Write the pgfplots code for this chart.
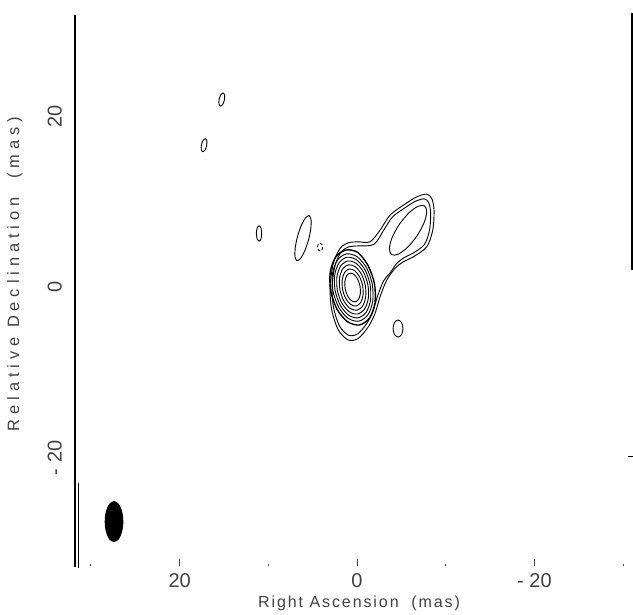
\documentclass[border=0pt]{standalone}
\usepackage{pgfplots}
\pgfplotsset{compat=1.18}
\usepackage{fontspec}
\setmainfont{Liberation Sans}
\newfontfamily\lblx[LetterSpace=12]{Liberation Sans}
\newfontfamily\lbly[LetterSpace=30]{Liberation Sans}
\newfontfamily\tickf{Liberation Sans}
\colorlet{txt}{black!75}
\tikzset{cnt/.style={black, line width=0.45pt, smooth cycle, mark=none}}
\begin{document}
\begin{tikzpicture}
\begin{axis}[name=ax, scale only axis, width=278.5pt, height=275.5pt,
 x dir=reverse, xmin=-31, xmax=31.8, ymin=-32.3, ymax=32.2,
 clip=false,
 axis line style={draw=none},
 xtick={-20,0,20}, xticklabels={- 20,0,20}, minor xtick={-30,-10,10,30},
 xtick pos=bottom, tick align=inside, major tick length=3.5pt, minor tick length=1.2pt,
 ytick={-20,0,20}, yticklabels={- 20,0,20}, ytick style={draw=none},
 xtick style={black!70, line width=0.5pt},
 minor tick style={black!70, line width=0.8pt},
 xticklabel style={font=\tickf\fontsize{10}{11}\selectfont, text=txt},
 yticklabel style={font=\tickf\fontsize{10}{11}\selectfont, text=txt, rotate=90, anchor=south, xshift=1.5pt, yshift=3pt},
 xlabel={Right Ascension\ \ (mas)}, ylabel={Relative Declination\ \ (mas)},
 xlabel style={font=\lblx\fontsize{8}{10}\selectfont, text=txt, at={(axis description cs:0.51,-0.067)}, anchor=center},
 ylabel style={font=\lbly\fontsize{8.2}{10}\selectfont, text=txt, at={(axis description cs:-0.108,0.53)}, anchor=center},
]
% frame lines
\addplot[black, line width=1.2pt] coordinates {(31.8,-32.4) (31.8,32.2)};
\addplot[black, line width=1pt] coordinates {(-31,32.4) (-31,2.3)};
\addplot[black, line width=0.4pt] coordinates {(31.45,-22.6) (31.45,-32.5)};
\addplot[black, line width=0.6pt] coordinates {(-30.6,-19.5) (-31.1,-19.5)};
% merged contour level 1
\addplot[cnt] coordinates {(-0.147,5.649) (-1.466,5.649) (-2.593,7.018) (-3.720,8.772) (-5.220,9.942) (-6.731,10.912) (-7.858,11.228) (-8.422,10.725) (-8.681,9.357) (-8.534,7.018) (-7.858,5.064) (-6.347,3.895) (-5.220,3.310) (-4.284,2.538) (-3.348,1.170) (-2.593,-0.784) (-2.029,-2.725) (-1.274,-4.292) (-0.147,-5.649) (0.981,-5.848) (2.108,-4.678) (2.852,-2.339) (3.044,0.386) (2.672,3.123) (1.917,4.877) (0.981,5.532)};
% merged contour level 2
\addplot[cnt] coordinates {(-0.089,5.168) (-1.9,5.35) (-3.003,7.016) (-3.984,8.542) (-5.289,9.560) (-6.603,10.403) (-7.584,10.678) (-8.075,10.241) (-8.300,9.051) (-8.172,7.016) (-7.584,5.316) (-6.269,4.299) (-5.289,3.790) (-4.475,3.118) (-3.75,2.05) (-3.002,1.092) (-2.315,-0.686) (-1.801,-2.453) (-1.114,-3.879) (-0.089,-5.114) (0.938,-5.295) (1.963,-4.230) (2.640,-2.101) (2.815,0.378) (2.477,2.869) (1.789,4.465) (0.938,5.061)};
% jet component level 3
\addplot[cnt] coordinates {(-7.603,9.853) (-6.852,9.798) (-5.805,8.993) (-4.743,7.654) (-3.951,6.139) (-3.642,4.856) (-3.897,4.147) (-4.648,4.202) (-5.695,5.007) (-6.757,6.346) (-7.549,7.861) (-7.858,9.144)};
% core levels 3-9
\addplot[cnt, line width=0.7pt] coordinates {(1.274,4.683) (2.402,3.878) (3.020,2.115) (2.963,-0.135) (2.246,-2.269) (1.060,-3.714) (-0.274,-4.083) (-1.402,-3.278) (-2.020,-1.515) (-1.963,0.735) (-1.246,2.869) (-0.060,4.414)};
\addplot[cnt] coordinates {(1.196,4.240) (2.211,3.516) (2.767,1.931) (2.716,-0.092) (2.071,-2.009) (1.005,-3.308) (-0.196,-3.640) (-1.211,-2.916) (-1.767,-1.331) (-1.716,0.692) (-1.071,2.609) (-0.005,3.908)};
\addplot[cnt] coordinates {(1.126,3.846) (2.028,3.197) (2.519,1.772) (2.470,-0.048) (1.893,-1.774) (0.942,-2.945) (-0.126,-3.246) (-1.028,-2.597) (-1.519,-1.172) (-1.470,0.648) (-0.893,2.374) (0.058,3.545)};
\addplot[cnt] coordinates {(1.048,3.403) (1.837,2.835) (2.267,1.587) (2.224,-0.005) (1.719,-1.515) (0.887,-2.539) (-0.048,-2.803) (-0.837,-2.235) (-1.267,-0.987) (-1.224,0.605) (-0.719,2.115) (0.113,3.139)};
\addplot[cnt] coordinates {(0.970,2.960) (1.621,2.477) (1.972,1.411) (1.928,0.048) (1.502,-1.249) (0.807,-2.129) (0.030,-2.360) (-0.621,-1.877) (-0.972,-0.811) (-0.928,0.552) (-0.502,1.849) (0.193,2.729)};
\addplot[cnt] coordinates {(0.883,2.467) (1.398,2.077) (1.672,1.211) (1.633,0.100) (1.290,-0.957) (0.734,-1.677) (0.117,-1.867) (-0.398,-1.477) (-0.672,-0.611) (-0.633,0.500) (-0.290,1.557) (0.266,2.277)};
\addplot[cnt] coordinates {(0.796,1.975) (1.175,1.676) (1.373,1.009) (1.337,0.152) (1.077,-0.665) (0.663,-1.224) (0.204,-1.375) (-0.175,-1.076) (-0.373,-0.409) (-0.337,0.448) (-0.077,1.265) (0.337,1.824)};
% small islands
\addplot[cnt] coordinates {(15.094,23.064) (15.348,22.882) (15.544,22.360) (15.568,21.802) (15.406,21.536) (15.152,21.718) (14.956,22.240) (14.932,22.798)};
\addplot[cnt] coordinates {(17.094,17.724) (17.348,17.542) (17.544,17.020) (17.568,16.462) (17.406,16.196) (17.152,16.378) (16.956,16.900) (16.932,17.458)};
\addplot[cnt] coordinates {(11.05,7.53) (11.262,7.266) (11.35,6.63) (11.262,5.994) (11.05,5.73) (10.838,5.994) (10.75,6.63) (10.838,7.266)};
\addplot[cnt] coordinates {(5.413,8.716) (5.819,8.444) (6.297,7.538) (6.720,6.242) (6.975,4.902) (6.991,3.878) (6.767,3.444) (6.361,3.716) (5.883,4.622) (5.460,5.918) (5.205,7.258) (5.189,8.282)};
\addplot[cnt, dash pattern=on 1.5pt off 1pt] coordinates {(4.17,5.48) (4.382,5.348) (4.47,5.03) (4.382,4.712) (4.17,4.58) (3.958,4.712) (3.87,5.03) (3.958,5.348)};
\addplot[cnt] coordinates {(-4.62,-3.5) (-4.224,-3.793) (-4.06,-4.5) (-4.224,-5.207) (-4.62,-5.5) (-5.016,-5.207) (-5.18,-4.5) (-5.016,-3.793)};
% beam
\addplot[cnt, fill=black] coordinates {(27.4,-24.76) (27.9,-25.07) (28.266,-25.93) (28.4,-27.1) (28.266,-28.27) (27.9,-29.13) (27.4,-29.44) (26.9,-29.13) (26.534,-28.27) (26.4,-27.1) (26.534,-25.93) (26.9,-25.07)};
\end{axis}
\pgfresetboundingbox
\path[use as bounding box] ([shift={(-37.5pt,-24pt)}]ax.south west) rectangle ([shift={(0.5pt,7.5pt)}]ax.north east);
\end{tikzpicture}
\end{document}
